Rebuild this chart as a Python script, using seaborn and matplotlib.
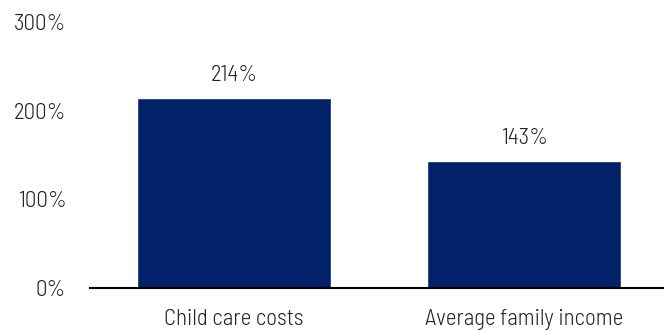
import matplotlib
matplotlib.use("Agg")
import matplotlib.pyplot as plt
import seaborn as sns
import pandas as pd

categories = ["Child care costs", "Average family income"]
values = [214, 143]
value_labels = ["214%", "143%"]
y_ticks = [0, 100, 200, 300]
y_tick_labels = ["0%", "100%", "200%", "300%"]

df = pd.DataFrame({"Category": categories, "Value": values})

sns.set_style("white")
plt.rcParams["font.family"] = ["Barlow Semi Condensed", "DejaVu Sans"]
plt.rcParams["font.weight"] = 300

fig = plt.figure(figsize=(6.64, 3.30), dpi=100)
ax = fig.add_axes([0.1355, 0.127, 0.8645, 0.806])

sns.barplot(data=df, x="Category", y="Value", color="#012169", saturation=1,
            width=0.669, ax=ax)

for i, (v, lab) in enumerate(zip(values, value_labels)):
    ax.text(i, v + 14, lab, ha="center", va="bottom", fontsize=16.5, color="#222222")

ax.set_ylim(0, 300)
ax.set_xlim(-0.497, 1.482)
ax.set_yticks(y_ticks)
ax.set_yticklabels(y_tick_labels)
ax.set_xlabel("")
ax.set_ylabel("")
ax.tick_params(axis="y", length=0, pad=17, labelsize=16.5, labelcolor="#222222")
ax.tick_params(axis="x", length=0, pad=15, labelsize=16.5, labelcolor="#222222")

for s in ["top", "right", "left"]:
    ax.spines[s].set_visible(False)
ax.spines["bottom"].set_color("black")
ax.spines["bottom"].set_linewidth(1.5)

fig.savefig("out.png", dpi=100)
